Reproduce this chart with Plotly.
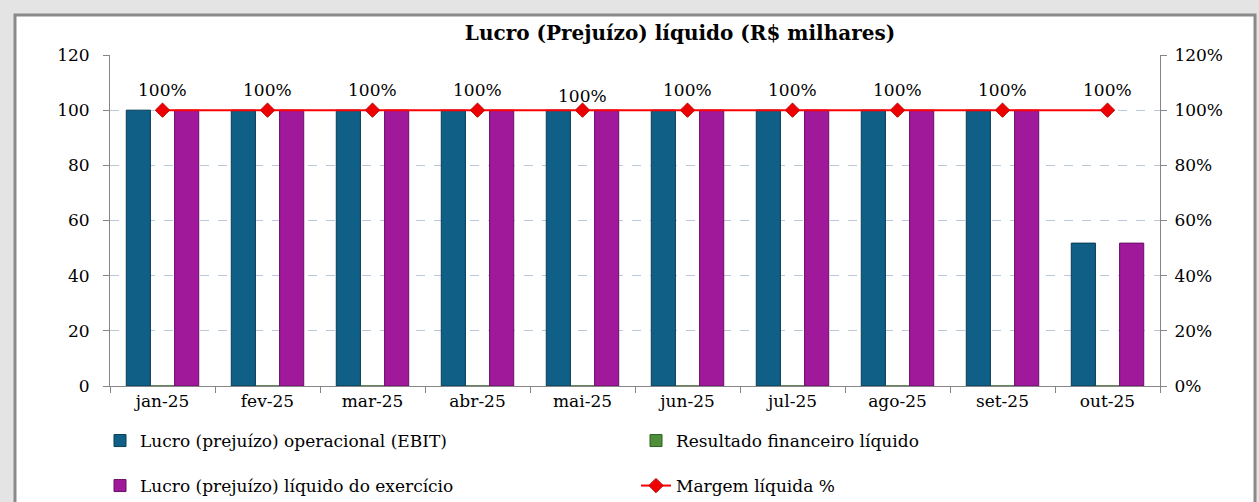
import plotly.graph_objects as go

months = ["jan-25", "fev-25", "mar-25", "abr-25", "mai-25", "jun-25",
          "jul-25", "ago-25", "set-25", "out-25"]
ebit = [100, 100, 100, 100, 100, 100, 100, 100, 100, 51.8]
resultado_fin = [0, 0, 0, 0, 0, 0, 0, 0, 0, 0]
lucro_liquido = [100, 100, 100, 100, 100, 100, 100, 100, 100, 51.8]
margem = [1.0, 1.0, 1.0, 1.0, 1.0, 1.0, 1.0, 1.0, 1.0, 1.0]

FONT = "DejaVu Serif"
W, H = 1259, 502
L, R, T, B = 110, 99, 55, 116
pw, ph = W - L - R, H - T - B

def px_x(p):
    return (p - L) / pw

def px_y(p):
    return (H - B - p) / ph

fig = go.Figure()
fig.add_trace(go.Bar(x=months, y=ebit, name="Lucro (prejuízo) operacional (EBIT)",
                     marker=dict(color="#0f5f86", line=dict(color="#0a3c56", width=1)),
                     legend="legend", showlegend=True))
fig.add_trace(go.Bar(x=months, y=resultado_fin, name="Resultado financeiro líquido",
                     marker=dict(color="#4f8f3c", line=dict(color="#2f5f22", width=1)),
                     legend="legend2"))
fig.add_trace(go.Bar(x=months, y=lucro_liquido, name="Lucro (prejuízo) líquido do exercício",
                     marker=dict(color="#a0199a", line=dict(color="#6a0f66", width=1)),
                     legend="legend3"))
fig.add_trace(go.Scatter(x=months, y=margem, name="Margem líquida %", yaxis="y2",
                         mode="lines+markers",
                         line=dict(color="#ff0000", width=2),
                         marker=dict(symbol="diamond", size=11, color="#ee0000",
                                     line=dict(color="#c00000", width=1)),
                         legend="legend4"))

for m, v in zip(months, margem):
    fig.add_annotation(x=m, y=v, yref="y2", text=f"{v:.0%}", showarrow=False,
                       yshift=14 if m == "mai-25" else 20,
                       font=dict(family=FONT, size=17, color="#000000"))

# chart frame
fig.add_shape(type="rect", xref="paper", yref="paper", layer="below",
              x0=px_x(15), x1=px_x(1255), y0=px_y(520), y1=px_y(15),
              fillcolor="#ffffff", line=dict(color="#8a8a8a", width=3))

legend_common = dict(orientation="h", xanchor="left", xref="container",
                     yref="container", yanchor="middle",
                     bgcolor="rgba(0,0,0,0)", font=dict(family=FONT, size=17),
                     itemwidth=30)

fig.update_layout(
    width=W, height=H,
    showlegend=True,
    margin=dict(l=L, r=R, t=T, b=B, autoexpand=False),
    paper_bgcolor="#e4e4e4",
    plot_bgcolor="rgba(0,0,0,0)",
    barmode="group", bargap=0.31, bargroupgap=0,
    font=dict(family=FONT, size=17, color="#000000"),
    title=dict(text="<b>Lucro (Prejuízo) líquido (R$ milhares)</b>",
               x=680 / W, xanchor="center",
               y=1 - 33 / H, yanchor="middle",
               font=dict(family=FONT, size=20, color="#000000")),
    xaxis=dict(range=[-0.5, len(months) - 0.5], autorange=False,
               showline=True, linecolor="#868686", linewidth=1,
               ticks="outside", tickson="boundaries", ticklen=6, tickcolor="#868686",
               showgrid=False, tickfont=dict(family=FONT, size=17)),
    yaxis=dict(range=[0, 120], dtick=20, showline=True, linecolor="#868686",
               ticks="outside", ticklen=6, tickcolor="#868686",
               ticklabelstandoff=10,
               showgrid=True, gridcolor="#b9c9d9", griddash="dash", gridwidth=1,
               zeroline=False, tickfont=dict(family=FONT, size=17)),
    yaxis2=dict(range=[0, 1.2], dtick=0.2, tickformat=".0%", overlaying="y",
                side="right", showline=True, linecolor="#868686",
                ticks="outside", ticklen=6, tickcolor="#868686",
                ticklabelstandoff=4,
                showgrid=False, zeroline=False, tickfont=dict(family=FONT, size=17)),
    legend=dict(legend_common, x=100 / W, y=1 - 441 / H),
    legend2=dict(legend_common, x=636 / W, y=1 - 441 / H),
    legend3=dict(legend_common, x=100 / W, y=1 - 486 / H),
    legend4=dict(legend_common, x=636 / W, y=1 - 486 / H),
)

fig.write_html("out.html", config={"displayModeBar": False},
               post_script="document.body.style.margin='0px';document.body.style.overflow='hidden';")
